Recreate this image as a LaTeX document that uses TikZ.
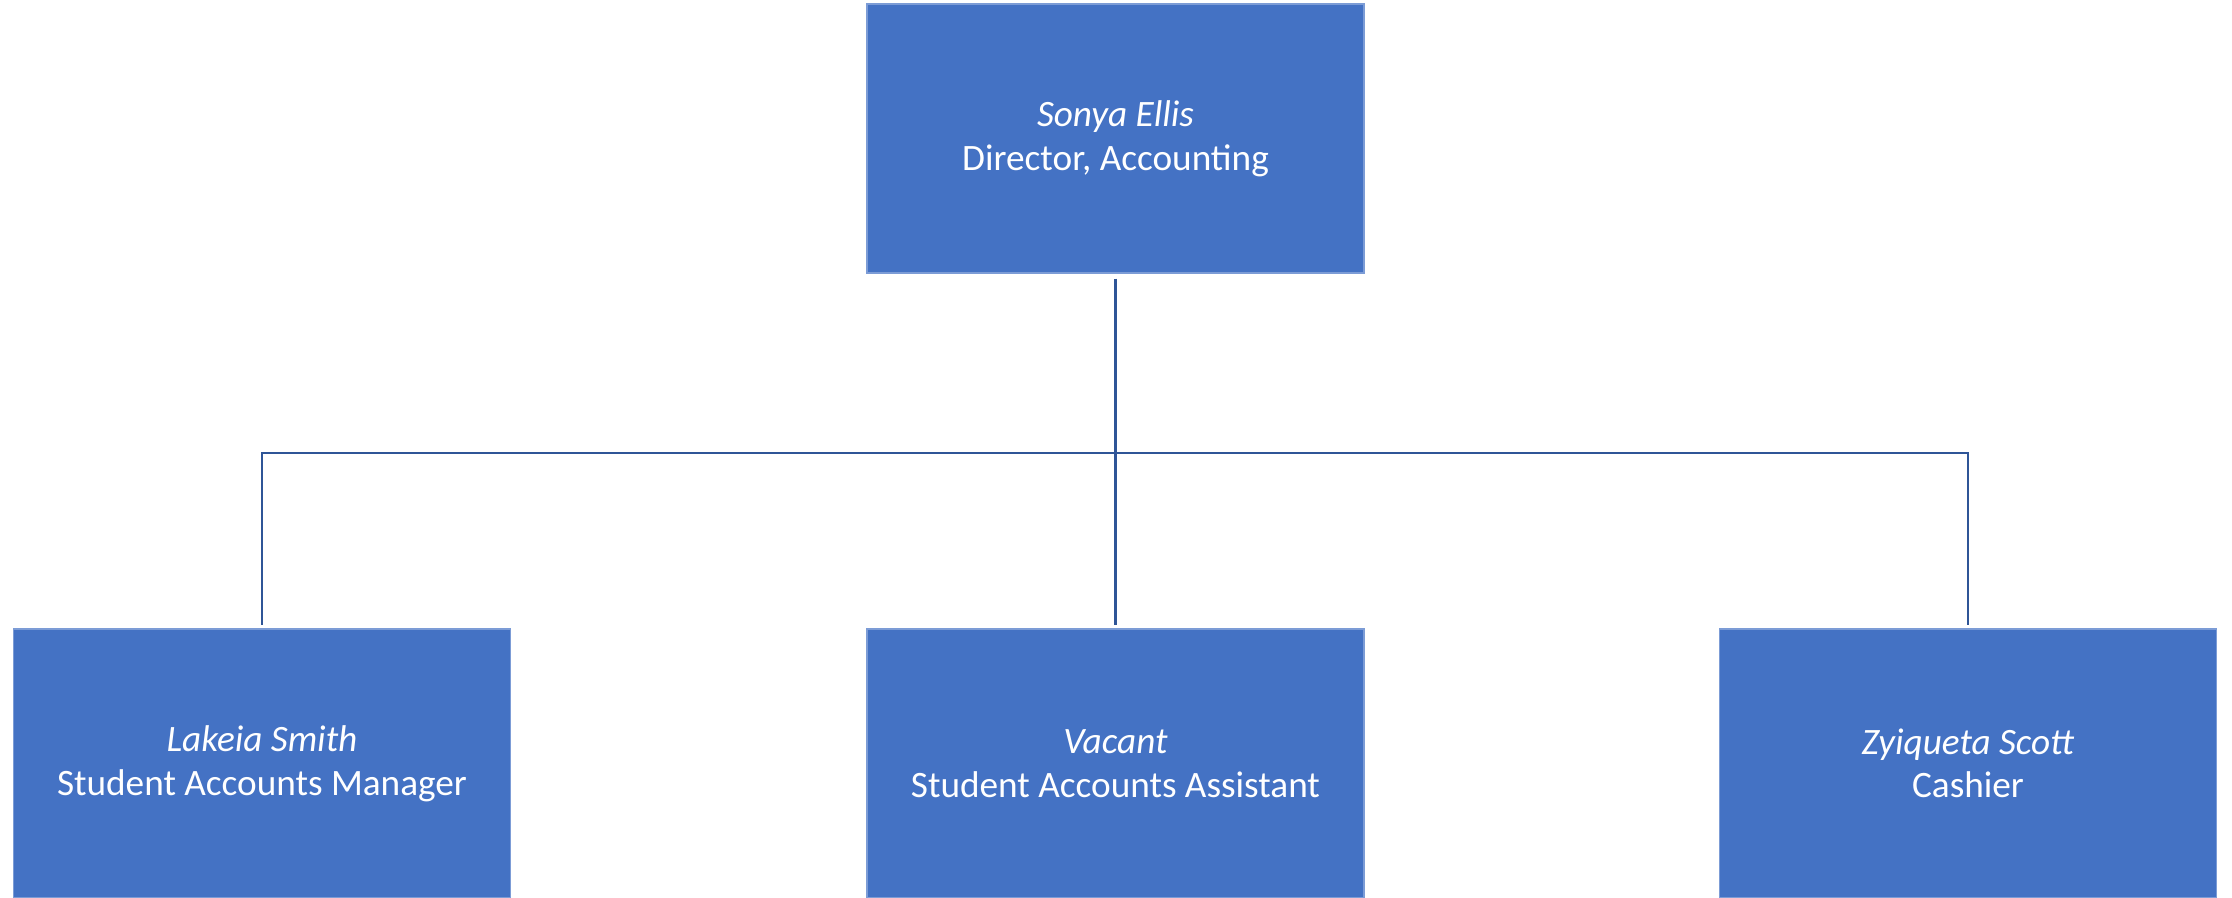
\documentclass[tikz,border=0pt]{standalone}
\usepackage{fontspec}
\setmainfont{Carlito}
\usepackage{tikz}
\usetikzlibrary{positioning}

\definecolor{boxblue}{HTML}{4472C4}
\definecolor{lineblue}{HTML}{2F5597}

\begin{document}
\begin{tikzpicture}
\tikzstyle{every node}+=[inner sep=0pt]
\tikzstyle{person}=[rectangle, fill=boxblue, draw=boxblue!70!white, line width=0.3pt,
  minimum width=4.97cm, minimum height=2.69cm, align=center, text=white,
  font=\fontsize{10.6}{12.4}\selectfont]
\tikzstyle{link}=[draw=lineblue, line width=0.6pt]
\useasboundingbox (0,0) rectangle (22.32,-8.97);
\node [person] (director) at (11.155,-1.385) {\textit{Sonya Ellis}\\Director, Accounting};
\node [person] (manager) at (2.62,-7.635) {\textit{Lakeia Smith}\\Student Accounts Manager};
\node [person] (assistant) at (11.155,-7.635) {\textit{Vacant}\\Student Accounts Assistant};
\node [person] (cashier) at (19.68,-7.635) {\textit{Zyiqueta Scott}\\Cashier};
\coordinate (bus) at (11.155,-4.53);
\draw [link, shorten <=0.05cm] (director.south) -- (bus);
\draw [link, shorten >=0.03cm] (bus) -| (manager.north);
\draw [link, shorten >=0.03cm] (bus) -- (assistant.north);
\draw [link, shorten >=0.03cm] (bus) -| (cashier.north);
\end{tikzpicture}
\end{document}
